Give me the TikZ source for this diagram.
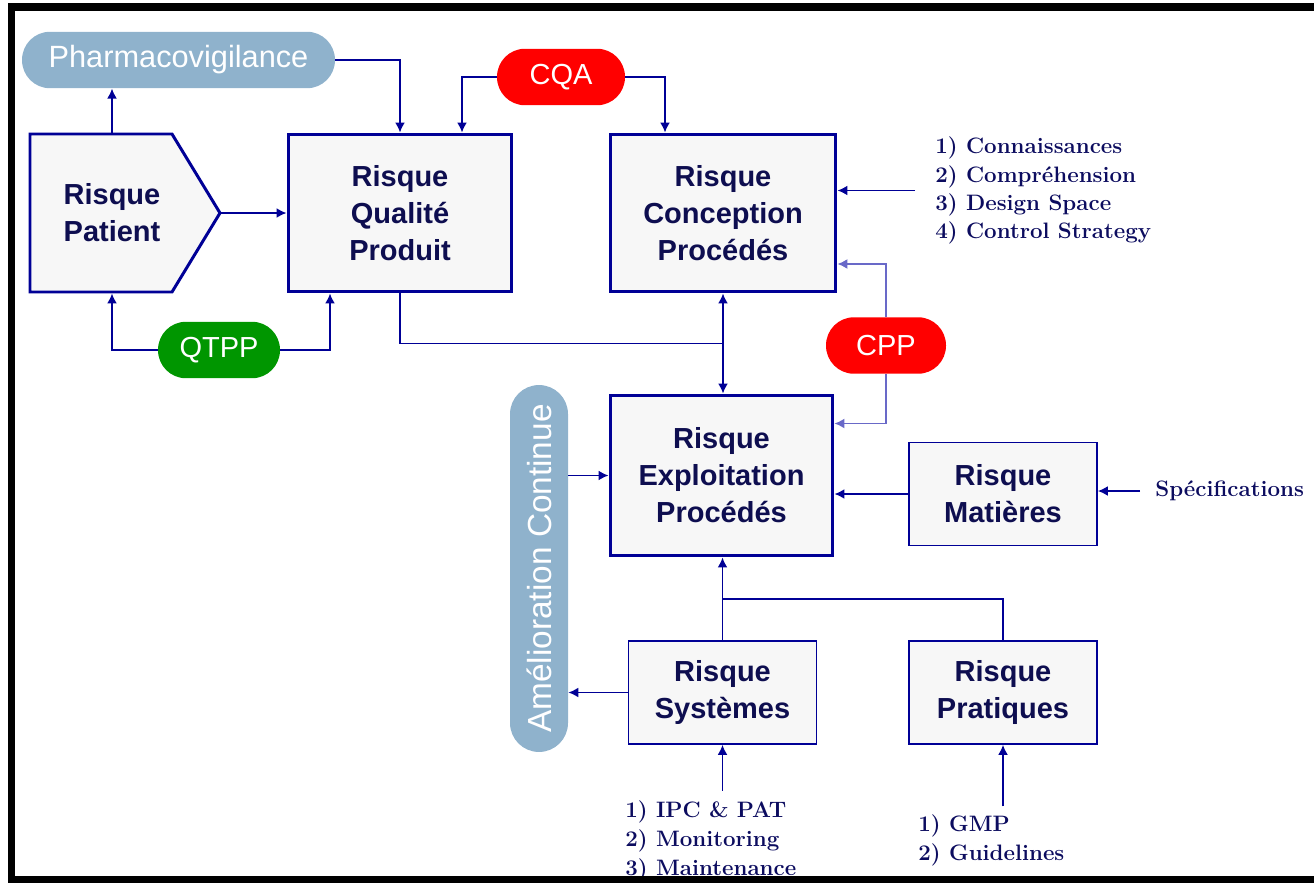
\documentclass[tikz,border=0pt]{standalone}
\usepackage{fontspec}
\usepackage{graphicx}
\usepackage{tikz}
\usetikzlibrary{positioning, arrows.meta, calc}
\newfontfamily\arialfont{Liberation Sans}
\definecolor{risknavy}{RGB}{0, 0, 150}
\definecolor{risktext}{RGB}{14, 14, 80}
\definecolor{listtext}{RGB}{12, 12, 95}
\definecolor{riskfill}{RGB}{247, 247, 247}
\definecolor{pillblue}{RGB}{143, 178, 204}
\definecolor{pillred}{RGB}{255, 0, 0}
\definecolor{pillgreen}{RGB}{0, 150, 0}
\definecolor{cpplink}{RGB}{105, 105, 200}
\tikzset{
  risklabel/.style={
    align=center,
    text=risktext,
    font=\arialfont\bfseries\fontsize{16.5}{21}\selectfont
  },
  bigrisk/.style={
    risklabel,
    draw=risknavy,
    line width=1.7pt,
    fill=riskfill,
    minimum height=3.16cm
  },
  smallrisk/.style={
    risklabel,
    draw=risknavy,
    line width=1pt,
    fill=riskfill,
    minimum width=3.76cm,
    minimum height=2.06cm
  },
  pill/.style={
    rounded corners=0.56cm,
    minimum height=1.13cm,
    inner sep=0pt,
    text=white,
    font=\arialfont\fontsize{16.5}{20}\selectfont
  },
  listtxt/.style={
    align=left,
    inner sep=0pt,
    text=listtext,
    font=\bfseries\fontsize{12.7}{16}\selectfont
  },
  arr/.style={
    -{Latex[length=2mm,width=2mm]},
    draw=risknavy,
    line width=1pt
  },
  arrboth/.style={
    arr,
    {Latex[length=2mm,width=2mm]}-{Latex[length=2mm,width=2mm]}
  },
  link/.style={
    draw=risknavy,
    line width=1pt
  },
  frame/.style={
    draw=black,
    line width=4pt
  }
}
\begin{document}
\begin{tikzpicture}[x=0.02cm, y=-0.02cm]
  \useasboundingbox (0,0) rectangle (1314,882);

  % risk boxes
  \draw[draw=risknavy, line width=1.7pt, fill=riskfill]
    (30,134) -- (172,134) -- (220,213) coordinate (ptip) -- (172,292) -- (30,292) -- cycle;
  \node[risklabel] (patient) at (112,213) {Risque\\Patient};
  \node[bigrisk, minimum width=4.48cm] (qp) at (400,213) {Risque\\Qualité\\Produit};
  \node[bigrisk, minimum width=4.52cm] (cp) at (723,213) {Risque\\Conception\\Procédés};
  \node[bigrisk, minimum width=4.46cm, minimum height=3.22cm] (ep) at (721.5,475.5) {Risque\\Exploitation\\Procédés};
  \node[smallrisk] (rm) at (1003,494) {Risque\\Matières};
  \node[smallrisk] (rs) at (722.5,692.5) {Risque\\Systèmes};
  \node[smallrisk] (rpr) at (1003,692.5) {Risque\\Pratiques};

  % pills
  \node[pill, fill=pillblue, minimum width=6.26cm, font=\arialfont\fontsize{17.5}{20}\selectfont] (pharma) at (178.5,60) {Pharmacovigilance};
  \node[pill, fill=pillred, minimum width=2.56cm] (cqa) at (561,77) {CQA};
  \node[pill, fill=pillgreen, minimum width=2.44cm] (qtpp) at (219,350) {QTPP};
  \node[pill, fill=pillred, minimum width=2.4cm] (cpp) at (886,345.5) {CPP};
  \node[pill, fill=pillblue, rounded corners=0.58cm, minimum width=1.16cm, minimum height=7.34cm,
        font=\arialfont\fontsize{19}{20}\selectfont] (ame) at (539,568.5) {\rotatebox{90}{Amélioration Continue}};

  % lists
  \node[listtxt, anchor=west] (know) at (935,190.5) {1) Connaissances\\2) Compréhension\\3) Design Space\\4) Control Strategy};
  \node[listtxt, anchor=west] (spec) at (1155,491) {Spécifications};
  \node[listtxt, anchor=west, font=\bfseries\fontsize{12.7}{16.5}\selectfont] (ipc) at (625,841) {1) IPC \& PAT\\2) Monitoring\\3) Maintenance};
  \node[listtxt, anchor=west, font=\bfseries\fontsize{12.7}{16.5}\selectfont] (gmp) at (918,840.5) {1) GMP\\2) Guidelines};

  % connectors
  \draw[arr] (patient |- qp.north) -- (patient |- pharma.south);
  \draw[arr] (pharma.east) -| (qp.north);
  \draw[arr] (cqa.west) -| ($(qp.north)+(62,0)$);
  \draw[arr] (cqa.east) -| ($(cp.north)+(-58,0)$);
  \draw[arr] (ptip) -- (qp.west);
  \draw[arr] (qtpp.west) -| (patient |- qp.south);
  \draw[arr] (qtpp.east) -| ($(qp.south)+(-70,0)$);
  \draw[link] (qp.south) |- ($(cp.south)!.5!(ep.north)$);
  \draw[arrboth] (cp.south) -- (cp.south |- ep.north);
  \draw[arr] ($(know.west)+(-20,0)$) -- (know.west -| cp.east);
  \draw[arr, draw=cpplink, line width=0.8pt] (cpp.north) |- ($(cp.east)+(0,51)$);
  \draw[arr, draw=cpplink, line width=0.8pt] (cpp.south) |- ($(ep.east)+(0,-52)$);
  \draw[arr] (ame.east |- ep.west) -- (ep.west);
  \draw[arr] (rm.west) -- (rm.west -| ep.east);
  \draw[arr] ($(spec.west)+(-15,0)$) -- (spec.west -| rm.east);
  \draw[arr] (rs.west) -- (rs.west -| ame.east);
  \draw[arr] (rs.north) -- (rs.north |- ep.south);
  \draw[link] (rpr.north) |- ($(rs.north)!.5!(ep.south)$);
  \draw[arr] ($(rs.south |- ipc.north)+(0,-10)$) -- (rs.south);
  \draw[arr] ($(rpr.south |- gmp.north)+(0,-8)$) -- (rpr.south);

  % frame
  \draw[frame] (1320,7) -- (11.5,7) -- (11.5,880) -- (1320,880);
\end{tikzpicture}
\end{document}
